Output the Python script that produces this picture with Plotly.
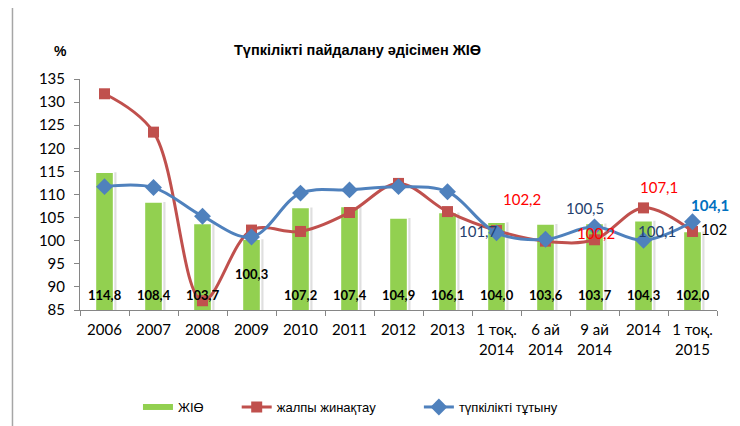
import plotly.graph_objects as go

# Categories (x axis) and series values
categories = ['2006', '2007', '2008', '2009', '2010', '2011', '2012', '2013',
              '1 тоқ.<br>2014', '6 ай<br>2014', '9 ай<br>2014', '2014', '1 тоқ.<br>2015']
gdp = [114.8, 108.4, 103.7, 100.3, 107.2, 107.4, 104.9, 106.1, 104.0, 103.6, 103.7, 104.3, 102.0]
gross_accum = [131.8, 123.5, 87.0, 102.3, 102.0, 106.1, 112.4, 106.3, 102.2, 99.9, 100.2, 107.1, 102.0]
final_cons = [111.7, 111.5, 105.3, 100.8, 110.3, 111.0, 111.7, 110.6, 101.7, 100.3, 103.0, 100.1, 104.1]

gdp_labels = ['114,8', '108,4', '103,7', '100,3', '107,2', '107,4', '104,9',
              '106,1', '104,0', '103,6', '103,7', '104,3', '102,0']

y_ticks = [85, 90, 95, 100, 105, 110, 115, 120, 125, 130, 135]

GREEN = '#92D050'
RED = '#C0504D'
BLUE = '#4F81BD'
NUM_FONT = 'Lato, Calibri, sans-serif'
TXT_FONT = 'Liberation Sans, Arial, sans-serif'

BAR_W = 0.37


def line_point_labels() -> list:
    '''
    Data labels of the two line series: (series, index, text, colour, bold, xshift, yshift).
    '''
    return [(gross_accum, 8, '102,2', '#FF0000', False, 25, 32),
            (gross_accum, 10, '100,2', '#FF0000', False, 1, 7),
            (gross_accum, 11, '107,1', '#FF0000', False, 15, 21),
            (gross_accum, 12, '102', '#000000', False, 21, 2),
            (final_cons, 8, '101,7', '#1F3F6E', False, -18, 2),
            (final_cons, 10, '100,5', '#1F3F6E', False, -10, 19),
            (final_cons, 11, '100,1', '#1F3F6E', False, 13, 9),
            (final_cons, 12, '104,1', '#0070C0', True, 17, 17)]


fig = go.Figure()

# Bar shadow, then the bars themselves
fig.add_trace(go.Bar(x = categories, y = gdp,
                     width = BAR_W, offset = -BAR_W / 2 + 0.06,
                     marker = {'color' : 'rgba(110, 110, 110, 0.22)', 'line' : {'width' : 0}},
                     showlegend = False, hoverinfo = 'skip'))
fig.add_trace(go.Bar(x = categories, y = gdp, name = 'ЖІӨ',
                     width = BAR_W, offset = -BAR_W / 2,
                     marker = {'color' : GREEN, 'line' : {'color' : 'white', 'width' : 1.5}},
                     showlegend = False))

# Lines
fig.add_trace(go.Scatter(x = categories, y = gross_accum, name = 'жалпы жинақтау',
                         mode = 'lines+markers',
                         line = {'color' : RED, 'width' : 3, 'shape' : 'spline', 'smoothing' : 1},
                         marker = {'symbol' : 'square', 'size' : 11, 'color' : RED},
                         legend = 'legend2'))
fig.add_trace(go.Scatter(x = categories, y = final_cons, name = 'түпкілікті тұтыну',
                         mode = 'lines+markers',
                         line = {'color' : BLUE, 'width' : 3, 'shape' : 'spline', 'smoothing' : 1},
                         marker = {'symbol' : 'diamond', 'size' : 13, 'color' : BLUE},
                         legend = 'legend3'))

# Legend swatch for the bars (wide green bar like the original)
fig.add_trace(go.Scatter(x = categories[:1], y = [None], name = 'ЖІӨ', mode = 'lines',
                         line = {'color' : GREEN, 'width' : 6},
                         legend = 'legend', hoverinfo = 'skip'))

annotations = []

# Bar value labels, near the bottom of each bar
for i, (cat, text) in enumerate(zip(categories, gdp_labels)):
    annotations.append({'x' : i, 'y' : 92.9 if i == 3 else 88.2,
                        'text' : f'<b>{text}</b>', 'showarrow' : False,
                        'font' : {'family' : NUM_FONT, 'size' : 13, 'color' : 'black'}})

# Line value labels
for series, idx, text, color, bold, dx, dy in line_point_labels():
    annotations.append({'x' : idx, 'y' : series[idx],
                        'text' : f'<b>{text}</b>' if bold else text,
                        'xshift' : dx, 'yshift' : dy, 'showarrow' : False,
                        'font' : {'family' : NUM_FONT, 'size' : 15, 'color' : color}})

# Title and unit
annotations.append({'text' : '<b>Түпкілікті пайдалану әдісімен ЖІӨ</b>',
                    'xref' : 'paper', 'yref' : 'paper', 'x' : 0.435, 'y' : 1.126,
                    'xanchor' : 'center', 'yanchor' : 'middle', 'showarrow' : False,
                    'font' : {'family' : TXT_FONT, 'size' : 14.5, 'color' : 'black'}})
annotations.append({'text' : '<b>%</b>',
                    'xref' : 'paper', 'yref' : 'paper', 'x' : -0.03, 'y' : 1.122,
                    'xanchor' : 'center', 'yanchor' : 'middle', 'showarrow' : False,
                    'font' : {'family' : TXT_FONT, 'size' : 14, 'color' : 'black'}})

# Chart frame (left and top edges visible in the original)
frame_line = {'color' : '#A6A6A6', 'width' : 1.5}
shapes = [{'type' : 'line', 'xref' : 'paper', 'yref' : 'paper',
           'x0' : -0.106, 'x1' : -0.106, 'y0' : 1.312, 'y1' : -0.6, 'line' : frame_line},
          {'type' : 'line', 'xref' : 'paper', 'yref' : 'paper',
           'x0' : -0.106, 'x1' : 1.1, 'y0' : 1.312, 'y1' : 1.312, 'line' : frame_line}]

legend_font = {'family' : TXT_FONT, 'size' : 13, 'color' : 'black'}


def legend_dict(x: float) -> dict:
    '''
    One single-item legend placed under the plot.
    '''
    return {'x' : x, 'y' : -0.42, 'xanchor' : 'left', 'yanchor' : 'middle',
            'orientation' : 'h', 'font' : legend_font, 'bgcolor' : 'rgba(0,0,0,0)'}


# The page body adds an 8px offset, so the figure is 8px smaller on each side
fig.update_layout(width = 732, height = 418,
                  margin = {'l' : 72, 'r' : 23, 't' : 71, 'b' : 116, 'autoexpand' : False},
                  barmode = 'overlay',
                  plot_bgcolor = 'white', paper_bgcolor = 'white',
                  annotations = annotations, shapes = shapes,
                  legend = legend_dict(0.091),
                  legend2 = legend_dict(0.246),
                  legend3 = legend_dict(0.532),
                  xaxis = {'type' : 'category', 'categoryorder' : 'array',
                           'categoryarray' : categories, 'range' : [-0.5, len(categories) - 0.5],
                           'showgrid' : False, 'zeroline' : False,
                           'showline' : True, 'linecolor' : '#868686', 'linewidth' : 1,
                           'ticks' : 'outside', 'tickson' : 'boundaries', 'ticklen' : 5,
                           'tickcolor' : '#868686', 'tickangle' : 0, 'ticklabelstandoff' : 6,
                           'tickfont' : {'family' : NUM_FONT, 'size' : 15, 'color' : 'black'}},
                  yaxis = {'range' : [85, 135], 'tickvals' : y_ticks,
                           'showgrid' : False, 'zeroline' : False,
                           'showline' : True, 'linecolor' : '#868686', 'linewidth' : 1,
                           'ticks' : 'outside', 'ticklen' : 5, 'tickcolor' : '#868686',
                           'ticklabelstandoff' : 6,
                           'tickfont' : {'family' : NUM_FONT, 'size' : 15, 'color' : 'black'}})

fig.write_html('out.html')
